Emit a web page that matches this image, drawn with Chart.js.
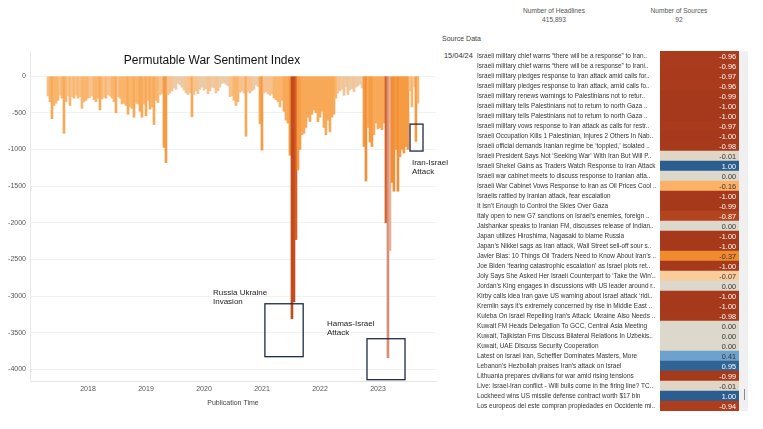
<!DOCTYPE html>
<html><head><meta charset="utf-8">
<script src="https://cdn.jsdelivr.net/npm/chart.js@4.4.1/dist/chart.umd.min.js"></script>
<style>
html,body{margin:0;padding:0;background:#fff;width:763px;height:429px;overflow:hidden;font-family:"Liberation Sans",Arial,sans-serif;}
#c1wrap{position:absolute;left:0;top:0;width:460px;height:429px;}
#c2wrap{position:absolute;left:440px;top:0;width:323px;height:429px;}
.kpi{position:absolute;width:140px;text-align:center;font-size:6.6px;color:#555;line-height:9px;}
#strip{position:absolute;left:739px;top:51px;width:9px;height:360px;background:#f0f0f0;}
#thumb{position:absolute;left:744px;top:389px;width:1px;height:11px;background:#8a8a8a;}
#src{position:absolute;left:442px;top:35px;font-size:7px;color:#444;}
#date{position:absolute;left:444px;top:51px;font-size:7.4px;color:#333;line-height:10px;}
</style></head>
<body>
<div class="kpi" style="left:484px;top:6px;">Number of Headlines<br>415,893</div>
<div class="kpi" style="left:609px;top:6px;">Number of Sources<br>92</div>
<div id="src">Source Data</div>
<div id="date">15/04/24</div>
<div id="strip"></div><div id="thumb"></div>
<div id="c1wrap"><canvas id="c1"></canvas></div>
<div id="c2wrap"><canvas id="c2"></canvas></div>
<script>
// ---------- DATA ----------
const chartTitle = "Permutable War Sentiment Index";
const xAxisTitle = "Publication Time";
const yearTicks = [2018, 2019, 2020, 2021, 2022, 2023];
const indexTicks = [0, -500, -1000, -1500, -2000, -2500, -3000, -3500, -4000];
const firstPeriod = 2017.31;   // axis position of first period
const periodStep = 0.03448;    // axis units per period
const sentimentIndex = [
 -270,-350,-580,-400,-370,-330,-260,-300,-780,-350,-270,-400,-280,-300,-260,
 -300,-280,-440,-350,-330,-300,-290,-270,-320,-350,-300,-460,-310,-290,-300,-250,-270,-300,-350,-500,-280,-300,-380,-370,-400,-520,-420,-440,-560,-370,-380,-480,-560,
 -380,-540,-330,-450,-420,-660,-330,-360,-250,-240,-970,-1180,-250,-230,-200,-160,-180,-100,-120,-150,-190,-230,-250,-230,-555,-250,-200,-240,-180,-150,-190,-170,-240,-200,-150,-160,-230,-200,-150,-100,-90,-110,-130,-280,-270,-330,-400,-350,
 -220,-200,-230,-820,-210,-230,-200,-180,-120,-140,-650,-1010,-230,-210,-240,-260,-240,-300,-320,-350,-420,-330,-480,-600,-640,-1080,-3310,-3080,-2230,-1280,-1000,-800,-780,-700,-560,-620,-520,-460,-500,-620,-560,-480,-700,-800,-600,-760,-560,-520,
 -300,-230,-200,-180,-260,-150,-250,-190,-170,-210,-150,-130,-110,-160,-960,-1430,-700,-900,-960,-800,-640,-720,-700,-730,-640,-2000,-3840,-2380,-1450,-1570,-1000,-1570,-1100,-1000,-1050,-960,-1000,-200,-420,-150,-890,-370
];
const eventLabels = [["Russia Ukraine","Invasion"],["Hamas-Israel","Attack"],["Iran-Israel","Attack"]];
const eventLabelAt = [[2020.155,-2956],[2022.12,-3379],[2023.586,-1185]];
const eventBoxes = [[2021.05,2021.71,-3106,-3828],[2022.81,2023.466,-3583,-4142],[2023.552,2023.776,-654,-1022]];

const headlines = [
"Israeli military chief warns “there will be a response” to Iran..",
"Israeli military chief warns “there will be a response” to Irani..",
"Israeli military pledges response to Iran attack amid calls for..",
"Israeli military pledges response to Iran attack, amid calls fo..",
"Israeli military renews warnings to Palestinians not to retur..",
"Israeli military tells Palestinians not to return to north Gaza ..",
"Israeli military tells Palestinians not to return to north Gaza ..",
"Israeli military vows response to Iran attack as calls for restr..",
"Israeli Occupation Kills 1 Palestinian, Injures 2 Others In Nab..",
"Israeli official demands Iranian regime be ‘toppled,’ isolated ..",
"Israeli President Says Not ‘Seeking War’ With Iran But Will P..",
"Israeli Shekel Gains as Traders Watch Response to Iran Attack",
"Israeli war cabinet meets to discuss response to Iranian atta..",
"Israeli War Cabinet Vows Response to Iran as Oil Prices Cool ..",
"Israelis rattled by Iranian attack, fear escalation",
"It Isn’t Enough to Control the Skies Over Gaza",
"Italy open to new G7 sanctions on Israel’s enemies, foreign ..",
"Jaishankar speaks to Iranian FM, discusses release of Indian..",
"Japan utilizes Hiroshima, Nagasaki to blame Russia",
"Japan’s Nikkei sags as Iran attack, Wall Street sell-off sour s..",
"Javier Blas: 10 Things Oil Traders Need to Know About Iran’s ..",
"Joe Biden ‘fearing catastrophic escalation’ as Israel plots ret..",
"Joly Says She Asked Her Israeli Counterpart to ‘Take the Win’..",
"Jordan’s King engages in discussions with US leader around r..",
"Kirby calls idea Iran gave US warning about Israel attack ‘ridi..",
"Kremlin says it’s extremely concerned by rise in Middle East ..",
"Kuleba On Israel Repelling Iran’s Attack: Ukraine Also Needs ..",
"Kuwait FM Heads Delegation To GCC, Central Asia Meeting",
"Kuwait, Tajikistan Fms Discuss Bilateral Relations In Uzbekis..",
"Kuwait, UAE Discuss Security Cooperation",
"Latest on Israel Iran, Scheffler Dominates Masters, More",
"Lebanon’s Hezbollah praises Iran’s attack on Israel",
"Lithuania prepares civilians for war amid rising tensions",
"Live: Israel-Iran conflict - Will bulls come in the firing line? TC..",
"Lockheed wins US missile defense contract worth $17 bln",
"Los europeos del este compran propiedades en Occidente mi.."
];
const headlineSentiment = [-0.96,-0.96,-0.97,-0.96,-0.99,-1.00,-1.00,-0.97,-1.00,-0.98,-0.01,1.00,0.00,-0.16,-1.00,-0.99,-0.87,0.00,-1.00,-1.00,-0.37,-1.00,-0.07,0.00,-1.00,-1.00,-0.98,0.00,0.00,0.00,0.41,0.95,-0.99,-0.01,1.00,-0.94];

// ---------- STYLE HELPERS ----------
const FONT = '"Liberation Sans", Arial, sans-serif';
function barColor(v){
  if (v <= -3500) return '#d58e78';
  if (v <= -2900) return '#c54b1c';
  if (v <= -2300) return '#e9b096';
  if (v <= -1900) return '#d65f26';
  if (v <= -1300) return '#f28f36';
  if (v <= -850) return '#f59b43';
  if (v <= -450) return '#f8a958';
  if (v <= -300) return '#fab56c';
  if (v <= -200) return '#f7c28e';
  return '#ebcba6';
}
function hex(c){return [parseInt(c.slice(1,3),16),parseInt(c.slice(3,5),16),parseInt(c.slice(5,7),16)];}
const negStops = [[0,'#ddd8cc'],[0.07,'#f8cd9b'],[0.16,'#fcb266'],[0.37,'#f08a2e'],[0.87,'#b4431f'],[1,'#a6381b']];
const posStops = [[0,'#ddd8cc'],[0.41,'#6ea1cd'],[1,'#2b5e90']];
function cellColor(v){
  const stops = v < 0 ? negStops : posStops; const a = Math.abs(v);
  for (let k=1;k<stops.length;k++){
    if (a <= stops[k][0]){
      const t = (a - stops[k-1][0])/(stops[k][0]-stops[k-1][0]);
      const c0 = hex(stops[k-1][1]), c1 = hex(stops[k][1]);
      return 'rgb('+c0.map((c,j)=>Math.round(c+(c1[j]-c)*t)).join(',')+')';
    }
  }
  return stops[stops.length-1][1];
}

// ---------- CHART 1 ----------
const decor1 = {
  id:'decor1',
  afterDatasetsDraw(chart){
    const {ctx, scales:{x,y}, chartArea} = chart;
    ctx.save();
    ctx.font = '12px '+FONT; ctx.fillStyle = '#111'; ctx.textAlign='center'; ctx.textBaseline='middle';
    ctx.fillText(chartTitle, chartArea.left + 182, chartArea.top + 9);
    ctx.strokeStyle = '#1c2b45'; ctx.lineWidth = 1.3;
    eventBoxes.forEach(b=>{
      const x0=x.getPixelForValue(b[0]), x1=x.getPixelForValue(b[1]);
      const y0=y.getPixelForValue(b[2]), y1=y.getPixelForValue(b[3]);
      ctx.strokeRect(x0, y0, x1-x0, y1-y0);
    });
    ctx.font = '8px '+FONT; ctx.fillStyle='#222'; ctx.textAlign='left';
    eventLabels.forEach((lines,k)=>{
      const px = x.getPixelForValue(eventLabelAt[k][0]);
      const py = y.getPixelForValue(eventLabelAt[k][1]);
      lines.forEach((t,j)=>ctx.fillText(t, px, py + j*9));
    });
    ctx.restore();
  }
};
new Chart(document.getElementById('c1'), {
  type:'bar',
  data:{ datasets:[{
    data: sentimentIndex.map((v,i)=>({x: firstPeriod + i*periodStep, y: v})),
    backgroundColor: sentimentIndex.map(barColor),
    barThickness: 2, borderWidth:0
  }]},
  options:{
    responsive:true, maintainAspectRatio:false, animation:false,
    layout:{padding:{top:52,left:0,right:24,bottom:0}},
    plugins:{legend:{display:false}, tooltip:{enabled:false}},
    scales:{
      x:{type:'linear', min:2017, max:2024, offset:false,
        afterBuildTicks(s){ s.ticks = yearTicks.map(v=>({value:v})); },
        afterFit(s){ s.height = 48; },
        grid:{display:false, drawTicks:false},
        border:{display:true, color:'#e4e4e4'},
        ticks:{padding:4, autoSkip:false, maxRotation:0, color:'#555', font:{family:FONT,size:7}, callback:v=>String(v)},
        title:{display:true, text:xAxisTitle, color:'#444', font:{family:FONT,size:7}, padding:{top:0,bottom:22}}
      },
      y:{type:'linear', min:-4160, max:330,
        afterBuildTicks(s){ s.ticks = indexTicks.map(v=>({value:v})); },
        afterFit(s){ s.width = 30; },
        grid:{color:'#f1f1f1', drawTicks:false},
        border:{display:true, color:'#e8e8e8'},
        ticks:{padding:4, color:'#555', font:{family:FONT,size:7}, callback:v=>String(v)}
      }
    }
  },
  plugins:[decor1]
});

// ---------- CHART 2 ----------
const decor2 = {
  id:'decor2',
  afterDatasetsDraw(chart){
    const {ctx} = chart; const meta = chart.getDatasetMeta(0);
    ctx.save(); ctx.font = '7.3px '+FONT; ctx.textAlign='right'; ctx.textBaseline='middle';
    meta.data.forEach((bar,i)=>{
      const v = headlineSentiment[i];
      ctx.fillStyle = Math.abs(v) > 0.5 ? '#ffffff' : '#333333';
      ctx.fillText(v.toFixed(2), bar.x - 3, bar.y + 0.5);
    });
    ctx.restore();
  }
};
new Chart(document.getElementById('c2'), {
  type:'bar',
  data:{ labels: headlines, datasets:[{
    data: headlineSentiment.map(()=>[0,1]),
    backgroundColor: headlineSentiment.map(cellColor),
    barPercentage:1, categoryPercentage:1, borderWidth:0
  }]},
  options:{
    indexAxis:'y', responsive:true, maintainAspectRatio:false, animation:false,
    layout:{padding:{top:51,left:37,right:24,bottom:18}},
    plugins:{legend:{display:false}, tooltip:{enabled:false}},
    scales:{
      x:{display:false, min:0, max:1},
      y:{afterFit(s){ s.width = 183; },
        grid:{display:false, drawTicks:false}, border:{display:false},
        ticks:{crossAlign:'far', autoSkip:false, padding:0, color:'#333', font:{family:FONT,size:6.4}}
      }
    }
  },
  plugins:[decor2]
});
</script>
</body></html>
